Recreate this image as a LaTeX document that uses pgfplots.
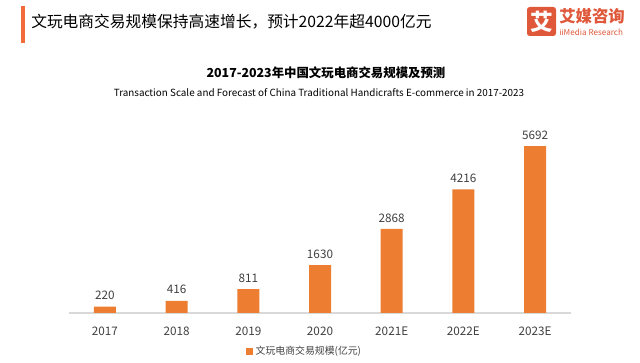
\documentclass[border=0pt]{standalone}
\usepackage{pgfplots}
\pgfplotsset{compat=1.18}
\usepackage{fontspec}
\setmainfont{Noto Sans CJK SC}
\definecolor{barorange}{HTML}{ED7D31}
\definecolor{logored}{HTML}{E0583A}
\definecolor{titlebar}{HTML}{F26B3A}
\definecolor{txtgray}{HTML}{404040}
\definecolor{axgray}{HTML}{D9D9D9}
\begin{document}
\begin{tikzpicture}
\begin{scope}[x=0.75pt,y=-0.75pt]
\path[use as bounding box] (0,0) rectangle (640,360);
\fill[titlebar] (21,6) rectangle (25,43);
\node[anchor=west,inner sep=0pt,font=\fontsize{11.8pt}{12pt}\selectfont,text=black] at (31,22) {文玩电商交易规模保持高速增长，预计2022年超4000亿元};
\fill[logored,rounded corners=2pt] (527,7) rectangle (556,36);
\node[inner sep=0pt,text=white,font=\fontsize{17pt}{17pt}\selectfont\bfseries] at (541.5,22) {艾};
\node[anchor=west,inner sep=0pt,text=logored,font=\fontsize{12.3pt}{13pt}\selectfont\bfseries] at (559,16) {艾媒咨询};
\node[anchor=west,inner sep=0pt,text=logored,font=\fontsize{6.1pt}{7pt}\selectfont] at (559,32.5) {iiMedia Research};
\node[inner sep=0pt,font=\fontsize{9.3pt}{10pt}\selectfont\bfseries,text=black] at (326,73) {2017-2023年中国文玩电商交易规模及预测};
\node[inner sep=0pt,font=\fontsize{7.4pt}{8pt}\selectfont,text=black] at (319,93) {Transaction Scale and Forecast of China Traditional Handicrafts E-commerce in 2017-2023};
\end{scope}
\begin{axis}[
  at={(51.75pt,-234.75pt)}, anchor=south west,
  scale only axis, width=376.5pt, height=132pt,
  xmin=-0.5, xmax=6.5, ymin=0, ymax=6000,
  axis y line=none,
  axis x line*=bottom,
  x axis line style={axgray, line width=0.8pt, -},
  xtick=data, xticklabels={2017,2018,2019,2020,2021E,2022E,2023E},
  xtick style={draw=none},
  xticklabel style={text=txtgray, font=\fontsize{8.8pt}{9pt}\selectfont, yshift=-3pt},
  ybar, bar width=16.5pt,
  nodes near coords,
  nodes near coords style={text=txtgray, font=\fontsize{8.8pt}{9pt}\selectfont, yshift=1.5pt},
  /pgf/number format/.cd, 1000 sep={}, assume math mode=true, /pgfplots/.cd,
  clip=false,
  legend style={at={(axis description cs:0.47,-0.22)}, anchor=center, draw=none, fill=none,
    font=\fontsize{7.4pt}{8pt}\selectfont, text=txtgray},
  legend image code/.code={\fill[barorange] (0pt,-2.6pt) rectangle (5.2pt,2.6pt);},
]
\addplot[fill=barorange, draw=none] coordinates {(0,220) (1,416) (2,811) (3,1630) (4,2868) (5,4216) (6,5692)};
\addlegendentry{文玩电商交易规模(亿元)}
\end{axis}
\end{tikzpicture}
\end{document}
